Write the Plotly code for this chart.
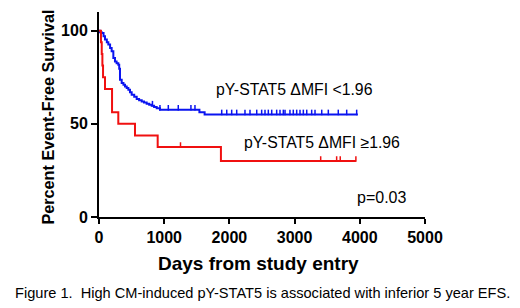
import plotly.graph_objects as go

# ---- data ----
low_days = [0, 15, 41, 70, 92, 120, 143, 170, 194, 220, 245, 270, 296, 310, 322, 348, 375, 399,
            425, 450, 475, 501, 540, 578, 615, 655, 690, 731, 770, 808, 845, 885, 935, 1540, 1620, 3970]
low_surv = [100, 99.2, 98.7, 97, 95.2, 93.8, 92.5, 90.7, 88.9, 85.3, 83.5, 82.5, 81.7, 79.5, 73.7, 71.9, 71, 70,
            69.2, 68.3, 67, 65.6, 64.5, 63.3, 62.6, 62, 61.4, 60.8, 60.2, 59.7, 59, 58.4, 57.5, 56.2, 55, 55]
low_censor = [820, 935, 1063, 1216, 1410, 1472, 1882, 1959, 2035, 2112, 2239, 2316, 2419, 2495, 2546, 2597,
              2649, 2725, 2776, 2827, 2853, 2929, 2980, 3032, 3083, 3134, 3186, 3262, 3313, 3416, 3517,
              3670, 3799, 3952]

high_days = [0, 30, 42, 52, 62, 92, 200, 296, 552, 900, 1870, 3940]
high_surv = [100, 93.75, 87.5, 81.25, 75, 68.75, 56.25, 50, 43.75, 37.5, 30, 30]
high_censor = [1250, 3400, 3645, 3700, 3940]

x_ticks = [0, 1000, 2000, 3000, 4000, 5000]
y_ticks = [0, 50, 100]

label_low = "pY-STAT5 ΔMFI <1.96"
label_high = "pY-STAT5 ΔMFI ≥1.96"
p_text = "p=0.03"
caption = "Figure 1.  High CM-induced pY-STAT5 is associated with inferior 5 year EFS."

BLUE = "#0a14f0"
RED = "#f01010"


def level_at(days, surv, t):
    v = surv[0]
    for d, s in zip(days, surv):
        if d <= t:
            v = s
    return v


fig = go.Figure()
fig.add_trace(go.Scatter(x=low_days, y=low_surv, mode="lines", line=dict(color=BLUE, width=2, shape="hv"),
                         hoverinfo="skip", showlegend=False))
fig.add_trace(go.Scatter(x=high_days, y=high_surv, mode="lines", line=dict(color=RED, width=2, shape="hv"),
                         hoverinfo="skip", showlegend=False))
# censor ticks (small upward marks)
fig.add_trace(go.Scatter(x=low_censor, y=[level_at(low_days, low_surv, t) + 1.1 for t in low_censor],
                         mode="markers", marker=dict(symbol="line-ns", size=4, line=dict(color=BLUE, width=1.5)),
                         hoverinfo="skip", showlegend=False))
fig.add_trace(go.Scatter(x=high_censor, y=[level_at(high_days, high_surv, t) + 1.1 for t in high_censor],
                         mode="markers", marker=dict(symbol="line-ns", size=4, line=dict(color=RED, width=1.5)),
                         hoverinfo="skip", showlegend=False))

FONT = "Liberation Sans, Arial, sans-serif"

# page body has an 8px margin, so the figure is offset by 8px
fig.update_layout(
    width=512, height=300,
    margin=dict(l=91, r=95, t=4, b=91),
    paper_bgcolor="white", plot_bgcolor="white",
    font=dict(family=FONT, color="black"),
    xaxis=dict(range=[0, 5000], tickvals=x_ticks, ticktext=[str(v) for v in x_ticks],
               showline=True, linecolor="black", linewidth=2, ticks="outside", ticklen=5, tickwidth=2,
               tickcolor="black", showgrid=False, zeroline=False,
               tickfont=dict(family=FONT, size=16, color="black", weight="bold")),
    yaxis=dict(range=[0, 110], tickvals=y_ticks, ticktext=[str(v) for v in y_ticks],
               showline=True, linecolor="black", linewidth=2, ticks="outside", ticklen=6, tickwidth=2,
               tickcolor="black", showgrid=False, zeroline=False,
               tickfont=dict(family=FONT, size=16, color="black", weight="bold")),
)

fig.add_annotation(x=1764, y=68.3, text=label_low, showarrow=False, xanchor="left", yanchor="middle",
                   font=dict(family=FONT, size=15.8, color="black"))
fig.add_annotation(x=2193, y=39.8, text=label_high, showarrow=False, xanchor="left", yanchor="middle",
                   font=dict(family=FONT, size=15.8, color="black"))
fig.add_annotation(x=4340, y=10.2, text=p_text, showarrow=False, xanchor="center", yanchor="middle",
                   font=dict(family=FONT, size=16, color="black"))
# axis titles
fig.add_annotation(xref="paper", yref="paper", x=0.49, y=0, yshift=-46, text="Days from study entry",
                   showarrow=False, xanchor="center", yanchor="middle",
                   font=dict(family=FONT, size=19, color="black", weight="bold"))
fig.add_annotation(xref="paper", yref="paper", x=0, xshift=-52, y=0.5, yshift=-3,
                   text="Percent Event-Free Survival", textangle=-90,
                   showarrow=False, xanchor="center", yanchor="middle",
                   font=dict(family=FONT, size=16.2, color="black", weight="bold"))
fig.add_annotation(xref="paper", yref="paper", x=0.5, y=0, yshift=-76, text=caption,
                   showarrow=False, xanchor="center", yanchor="middle",
                   font=dict(family=FONT, size=14.6, color="black"))

fig.write_html("out.html")
